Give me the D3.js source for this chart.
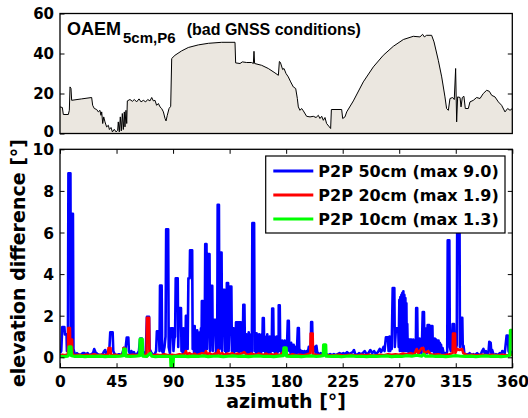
<!DOCTYPE html>
<html>
<head>
<meta charset="utf-8">
<script src="https://cdn.jsdelivr.net/npm/d3@7"></script>
<style>
  html, body { margin: 0; padding: 0; background: #fff; }
  svg { display: block; }
  .tick text { font-family: "DejaVu Sans", sans-serif; font-weight: bold; font-size: 15.5px; fill: #000; }
  .tick line { stroke: #000; stroke-width: 1; }
  .mask-axis .tick text { font-size: 15px; }
</style>
</head>
<body>
<svg id="chart" width="528" height="418"></svg>
<script>
// Obstruction-adaptive elevation mask (OAEM): azimuth [deg] -> elevation [deg]
const oaem = [
  [0,13.3],[1.86,13.0],[2.65,9.5],[6.63,9.5],[7.43,11.6],[7.96,23.3],[8.75,22.5],[9.28,16.6],
  [17.2,17.3],[25.2,18.0],[26.0,14.1],[27.3,12.5],[29.2,12.0],[30.5,10.8],[31.8,11.6],[32.6,9.1],
  [33.2,10.8],[34.0,5.0],[34.8,8.3],[35.8,5.8],[37.1,3.3],[38.5,4.1],[39.3,2.0],[40.6,3.0],
  [41.7,0.8],[43.2,2.1],[44.6,0.8],[45.9,1.6],[46.4,5.8],[47.2,0.8],[48.0,8.3],[48.8,1.3],
  [49.6,10.0],[50.4,2.0],[51.2,10.8],[51.7,3.3],[52.5,11.6],[53.1,5.0],[53.6,16.3],[55.7,17.0],
  [57.6,16.1],[59.2,17.0],[61.0,15.8],[62.9,17.3],[64.5,15.8],[66.3,16.6],[68.2,15.8],[69.8,17.0],
  [71.6,16.3],[73.0,18.0],[74.3,16.3],[75.6,16.6],[76.9,14.1],[78.3,15.0],[79.6,13.3],[80.9,12.5],
  [82.3,10.8],[83.6,7.5],[84.4,6.3],[85.4,9.1],[86.8,12.5],[88.1,13.6],[88.9,37.5],[91.5,39.1],
  [96.8,41.3],[102.1,43.0],[110.1,44.3],[118.1,45.1],[128.7,45.6],[139.3,45.6],[139.8,35.3],
  [143.3,35.0],[145.1,35.8],[148.6,35.5],[152.5,35.5],[153.9,35.0],[154.4,41.1],[154.9,35.0],
  [160.5,34.1],[165.8,32.5],[171.1,30.3],[173.8,29.1],[174.6,36.0],[175.4,35.6],[177.2,32.0],
  [178.3,32.5],[179.9,30.0],[181.7,28.3],[183.6,25.8],[185.7,23.3],[187.6,22.5],[188.9,17.5],
  [189.7,13.3],[191.0,11.6],[192.3,12.5],[193.7,11.3],[196.3,8.6],[199.0,8.3],[201.6,8.6],
  [203.8,8.0],[205.6,9.1],[206.9,7.5],[208.3,8.6],[209.6,6.6],[210.9,8.0],[212.2,5.0],[214.4,3.3],
  [215.4,2.5],[216.0,12.0],[224.2,12.0],[225.0,7.5],[226.8,8.3],[228.2,10.8],[233.5,16.3],
  [241.4,25.8],[249.4,33.3],[257.3,39.1],[265.3,43.6],[273.3,47.0],[281.2,48.6],[286.5,48.3],
  [288.6,49.6],[290.0,48.3],[291.8,49.1],[295.8,49.1],[297.7,45.8],[301.1,36.6],[303.8,28.3],
  [306.4,18.3],[307.7,12.5],[309.1,11.6],[310.4,17.5],[312.5,18.0],[313.8,17.0],[314.9,32.5],
  [315.7,5.8],[316.5,18.3],[318.4,18.0],[319.2,13.3],[320.2,18.0],[321.5,18.6],[322.6,12.5],
  [325.0,12.5],[326.3,15.8],[329.0,16.6],[331.6,18.0],[334.3,17.5],[336.9,20.0],[339.6,21.6],
  [341.7,21.1],[343.6,19.1],[346.2,18.3],[348.9,15.8],[351.5,14.1],[354.2,10.8],[356.3,12.5],
  [358.2,11.6],[360,12.5]
];

// Elevation difference [deg] per azimuth [deg], one series per point-to-point spacing
const p2p50 = [
  [0,0.2],[1.0,0.3],[1.8,1.45],[3.5,1.45],[3.9,1.1],[5.2,1.1],[5.5,0.3],[6.3,0.4],[6.7,8.85],[8.3,8.85],
  [8.7,0.6],[9.1,6.9],[10.3,6.9],[10.7,0.4],[11.5,0.2],[12.5,0.15],[13.5,0.2],[14.5,0.15],[16,0.1],[17,0.15],
  [18,0.2],[19.5,0.2],[20.5,0.15],[22,0.2],[23,0.1],[25,0.15],[26.3,0.2],[27.2,0.4],[28.2,0.25],
  [30,0.15],[32,0.1],[34,0.15],[35.2,0.3],[36,0.35],[37,0.15],[38.3,0.2],[39.4,0.5],[40.0,1.2],
  [41.9,1.2],[42.4,0.3],[43.5,0.15],[45,0.1],[47,0.15],[49,0.1],[50,0.25],[50.8,0.45],[51.8,0.2],
  [53.1,0.95],[54.4,0.95],[54.8,0.3],[55.8,0.15],[56.8,0.3],[57.8,0.15],[58.8,0.25],[59.8,0.1],
  [61.3,0.15],[62.8,0.3],[63.8,0.9],[65.2,0.9],[65.8,0.3],[66.8,0.2],[68.2,0.15],[69.2,1.95],
  [70.9,1.95],[71.3,0.4],[72.5,0.25],[73.5,0.15],[75,0.1],[76.5,0.3],[77.1,1.25],[78.7,1.25],
  [79.2,0.3],[79.6,3.45],[80.9,3.45],[81.3,0.3],[82.2,0.2],[83.2,0.5],[84.0,1.0],[84.5,6.15],
  [86.1,6.15],[86.5,0.5],[87.5,0.2],[88.3,1.4],[89.9,1.4],[90.3,0.3],[91.0,0.9],[91.6,1.0],
  [92.1,3.8],[93.7,3.8],[94.1,0.5],[94.7,2.37],[96.3,2.37],[96.7,0.3],
  [97.2,1.2],[97.7,0.2],[98.2,1.4],[98.7,0.3],[99.2,1.1],[99.7,0.2],[100.2,2.0],[101.2,2.0],
  [101.6,0.4],[102.2,3.8],[103.2,3.8],[103.5,5.15],[105.2,5.15],[105.6,0.4],[106.2,1.2],[106.7,0.2],
  [107.2,1.5],[107.7,0.3],[108.2,1.3],[108.7,0.2],[109.2,1.3],[109.7,0.2],[110.2,1.0],[110.7,0.3],
  [111.2,1.2],[111.7,0.2],[112.2,1.4],[112.6,0.3],[112.9,2.7],[113.7,2.7],[114.1,0.3],[114.6,1.3],
  [115.1,0.2],[115.6,5.44],[116.6,5.44],[117.0,0.4],[117.4,1.2],[117.8,4.96],[119.0,4.96],[119.4,0.3],
  [119.8,1.5],[120.2,3.44],[121.2,3.44],[121.6,0.3],[122.0,1.2],[122.8,1.8],[123.8,1.8],[124.2,0.2],
  [124.7,1.3],[125.1,0.3],[125.5,7.33],[126.5,7.33],[126.9,0.4],[127.3,1.3],[127.6,5.04],[128.6,5.04],
  [129.0,0.3],[129.5,1.8],[130.0,3.25],[131.0,3.25],[131.4,0.3],[131.9,1.4],[132.3,0.2],[132.8,3.57],
  [133.8,3.57],[134.2,0.3],[134.7,1.2],[135.3,3.4],[136.4,3.4],[136.8,0.3],[137.3,1.4],[138.2,1.4],
  [138.6,0.2],[139.1,1.3],[139.6,0.3],[140.1,1.68],[140.8,1.68],[141.2,0.3],[141.6,1.68],[142.3,1.68],
  [142.7,0.2],[143.1,1.68],[144.0,1.68],[144.4,0.3],[144.9,1.2],[145.4,0.2],[145.9,2.53],[146.8,2.53],
  [147.2,0.3],[147.6,1.1],[148.3,1.1],[148.7,0.2],[149.2,1.0],[149.7,0.3],[150.2,1.2],[150.7,0.2],
  [151.2,0.9],[151.7,0.3],[152.2,1.1],[152.7,0.2],[153.1,6.45],[154.5,6.45],[154.9,0.3],[155.5,1.1],
  [156.0,0.2],[156.5,1.15],[157.0,0.3],[157.5,1.0],[158.0,0.2],[158.5,1.1],[159.0,0.3],[159.5,0.9],
  [160.0,0.2],[160.5,1.1],[161.0,0.3],[161.4,1.89],[162.2,1.89],[162.6,0.3],[163.0,1.0],[163.5,0.2],
  [164.0,0.9],[164.5,0.3],[165.0,1.1],[165.5,0.2],[166.0,0.8],[166.5,0.3],[167.0,1.0],[167.5,0.2],
  [168.0,0.9],[168.5,0.3],[168.9,2.34],[169.7,2.34],[170.1,0.3],[170.6,1.0],[171.1,0.2],[171.6,0.8],
  [172.1,0.3],[172.6,1.0],[173.1,0.2],[173.6,0.9],[174.0,0.3],[174.1,2.5],[174.9,2.5],[175.3,0.3],
  [175.8,0.8],[176.3,0.2],[176.8,0.8],[177.3,0.2],[177.8,0.7],[178.3,0.3],[178.8,0.8],[179.3,0.2],
  [179.8,0.7],[180.3,0.3],[180.8,0.8],[181.3,1.76],[182.1,1.76],[182.5,0.3],[183.0,0.6],[183.5,0.2],
  [184.0,0.7],[184.5,0.3],[185.0,0.6],[185.5,0.2],[186.0,0.6],[186.5,0.2],[187.0,0.5],[187.5,0.2],
  [188.0,0.5],[188.5,0.2],[189.3,1.41],[190.1,1.41],[190.5,0.2],[191.2,0.35],[191.9,0.2],[192.7,0.3],
  [193.6,0.15],[194.5,0.3],[195.4,0.2],[196.3,0.3],[197.2,0.2],[198.0,0.5],[198.8,0.2],[199.6,0.4],
  [199.9,1.7],[200.7,1.7],[201.1,0.4],[201.7,0.5],[202.3,0.3],[202.9,0.5],[203.5,0.2],[204.1,0.55],
  [204.7,0.25],[205.5,0.2],[206.5,0.15],[207.5,0.2],[209,0.15],[210.5,0.2],[212,0.15],[213.5,0.1],
  [215,0.15],[216.5,0.1],[218,0.15],[219.5,0.1],[221,0.15],[222.5,0.2],[224,0.15],[225.5,0.2],
  [227,0.15],[228.5,0.25],[230,0.15],[231.5,0.2],[233,0.25],[234,0.35],[235,0.15],[236.5,0.1],
  [238,0.2],[239.5,0.15],[241,0.2],[242.5,0.3],[244,0.15],[245.5,0.2],[247,0.35],[248.5,0.2],
  [250,0.3],[251.5,0.15],[253,0.25],[254.5,0.4],[255.5,0.25],[256.5,0.35],[257.5,0.5],[258.3,0.3],
  [259.4,0.96],[261.0,0.96],[261.5,0.3],[262.3,1.0],[262.8,0.3],[263.5,0.5],[264.0,0.4],[264.8,3.33],
  [266.1,3.33],[266.5,0.5],[267.4,1.4],[269.2,1.4],[269.6,0.5],[270.1,2.77],[270.5,0.3],[270.9,2.9],
  [271.3,0.4],[271.7,3.0],[272.1,0.3],[272.5,3.1],[272.9,0.4],[273.3,3.17],[273.7,0.3],[274.1,3.0],
  [274.5,0.4],[274.9,2.85],[275.3,0.3],[275.7,2.6],[276.0,0.4],[276.4,1.6],[276.8,0.3],[277.2,0.85],
  [277.6,0.2],[278.0,0.85],[278.4,0.3],[278.8,0.85],[279.2,0.2],[279.6,0.85],[280.0,0.3],[280.4,0.8],
  [280.8,0.2],[281.2,0.85],[281.6,0.3],[282.0,0.8],[282.4,0.2],[282.8,0.8],[283.2,0.3],[283.5,2.37],
  [284.3,2.37],[284.7,0.3],[285.2,0.9],[285.7,0.2],[286.2,0.9],[286.7,0.3],[287.2,0.8],[287.7,0.2],
  [288.2,0.9],[288.7,2.18],[289.7,2.18],[290.1,0.3],[290.6,1.4],[291.1,0.3],[291.6,1.4],[292.1,0.2],
  [292.6,1.55],[293.9,1.55],[294.3,0.3],[294.8,1.0],[295.3,0.3],[295.7,1.5],[296.4,1.5],[296.8,0.3],
  [297.3,0.9],[297.8,0.2],[298.3,0.9],[298.8,0.3],[299.3,0.85],[299.8,0.2],[300.3,0.8],[300.8,0.3],
  [301.3,0.8],[301.8,0.2],[302.3,0.7],[302.8,0.3],[303.3,0.6],[303.8,0.2],[304.5,0.45],[305.5,0.15],
  [306.5,0.2],[307.5,0.1],[308.2,0.3],[308.6,5.62],[309.9,5.62],[310.3,0.5],[311,0.3],[311.8,0.5],
  [312.5,1.6],[313.6,1.6],[314,0.5],[315,0.4],[315.8,0.6],[316.3,9.0],[317.9,9.0],[318.3,0.5],
  [318.8,0.9],[319.2,1.9],[320.2,1.9],[320.6,0.4],[321.2,0.55],[321.8,0.2],[323,0.1],[324,0.15],
  [325,0.1],[326,0.2],[327,0.15],[328,0.1],[329,0.15],[330,0.1],[331,0.15],[332,0.2],[333,0.15],
  [334,0.1],[335,0.15],[336,0.3],[337,0.4],[338,0.2],[339,0.3],[340,0.15],[341,0.2],[341.7,0.75],
  [342.8,0.7],[343.3,0.2],[344,0.35],[345,0.15],[346,0.1],[347,0.15],[348,0.1],[349,0.15],[350,0.2],
  [351,0.1],[352,0.3],[353,0.25],[354,0.2],[355.5,1.05],[356.5,1.05],[357,0.3],[358,0.15],[359,0.2],
  [360,0.3]
];

const p2p20 = [
  [0,0.1],[2,0.12],[4,0.1],[6.3,0.15],[6.6,1.41],[7.9,1.41],[8.2,0.2],[8.5,0.85],[9.6,0.85],[9.9,0.15],[12,0.1],
  [15,0.12],[18,0.08],[21,0.12],[24,0.1],[27,0.15],[30,0.1],[33,0.12],[36,0.1],[38.3,0.15],[38.6,0.45],
  [40.2,0.45],[40.5,0.1],[44,0.12],[47,0.08],[50.2,0.15],[50.5,0.45],[51.3,0.45],[51.6,0.12],[55,0.1],
  [58,0.12],[61,0.1],[64,0.15],[67,0.1],[68.9,0.15],[69.2,1.9],[70.9,1.9],[71.2,0.15],[74,0.1],[77,0.12],
  [80,0.1],[83,0.15],[86,0.1],[89,0.12],[92,0.1],[95,0.15],[98,0.12],[99.5,0.2],[100.2,0.3],[101,0.15],
  [103,0.2],[105,0.12],[107,0.18],[109,0.1],[111,0.15],[113,0.2],[115,0.15],[116.2,0.3],[117,0.15],
  [119,0.2],[121,0.12],[123,0.18],[125,0.15],[126,0.35],[127,0.15],[129,0.2],[131,0.12],[133,0.18],
  [135,0.15],[137,0.2],[139,0.12],[141,0.18],[143,0.15],[145,0.2],[146.6,0.25],[148,0.15],[150,0.12],
  [152,0.18],[154,0.15],[156,0.12],[158,0.18],[160,0.15],[162,0.12],[164,0.18],[166,0.12],[168,0.15],
  [170,0.12],[172,0.18],[174,0.1],[176,0.15],[177.5,0.25],[179,0.15],[181,0.12],[183,0.1],[185,0.15],
  [188,0.1],[191,0.12],[194,0.1],[197,0.15],[199.2,0.2],[199.5,1.14],[201.1,1.14],[201.4,0.15],
  [204,0.12],[207,0.1],[210,0.12],[213,0.1],[216,0.08],[219,0.1],[222,0.12],[225,0.08],[228,0.1],
  [231,0.12],[234,0.1],[237,0.08],[240,0.12],[243,0.1],[246,0.12],[249,0.08],[252,0.1],[255,0.12],
  [258,0.1],[261,0.15],[264,0.12],[267,0.15],[270,0.12],[273,0.18],[276,0.15],[279,0.2],[282,0.15],
  [283.9,0.4],[285,0.2],[287.9,0.45],[289.2,0.45],[290,0.2],[293,0.3],[295,0.15],[298,0.12],[301,0.15],
  [304,0.1],[307,0.12],[310,0.15],[312.5,0.2],[312.8,1.14],[314.4,1.14],[314.7,0.2],[316,0.4],
  [318,0.35],[320,0.4],[321,0.2],[324,0.1],[328,0.12],[332,0.1],[336,0.12],[340,0.1],[344,0.12],
  [348,0.1],[352,0.12],[356,0.1],[360,0.12]
];

const p2p10 = [
  [0,0.05],[3,0.03],[6,0.06],[7.0,0.1],[7.2,0.5],[8.8,0.5],[9.1,0.08],[12,0.04],[16,0.06],[20,0.03],
  [24,0.05],[28,0.04],[32,0.06],[36,0.03],[40,0.05],[44,0.04],[48,0.06],[50.4,0.08],[50.6,0.4],
  [52.1,0.4],[52.4,0.06],[56,0.04],[60,0.05],[63.5,0.08],[63.7,0.87],[65.5,0.87],[65.8,0.06],[69,0.04],
  [72,0.2],[73,0.05],[76,0.03],[80,0.05],[84,0.04],[88.0,0.05],[88.3,-0.43],[90.0,-0.43],[90.3,0.05],
  [94,0.04],[98,0.06],[102,0.03],[106,0.06],[110,0.04],[114,0.07],[118,0.03],[122,0.05],[126,0.06],
  [130,0.03],[134,0.05],[138,0.07],[142,0.04],[146,0.06],[150,0.03],[154,0.05],[158,0.07],[162,0.04],
  [166,0.05],[170,0.03],[174,0.06],[177.9,0.08],[178.2,0.45],[180.0,0.45],[180.3,0.06],[184,0.04],
  [188,0.06],[192,0.03],[196,0.05],[200,0.07],[204,0.04],[207,0.05],[209.5,0.08],[209.8,0.6],
  [211.5,0.6],[211.8,0.05],[216,0.04],[220,0.06],[224,0.03],[228,0.05],[232,0.07],[236,0.04],[240,0.05],
  [244,0.03],[248,0.06],[252,0.04],[256,0.05],[260,0.07],[264,0.03],[268,0.06],[272,0.04],[276,0.08],
  [280,0.05],[284,0.1],[288,0.06],[289.5,0.15],[291,0.05],[295,0.07],[299,0.04],[303,0.06],[307,0.03],
  [311,0.05],[315,0.08],[319,0.05],[323,0.04],[327,0.06],[331,0.03],[335,0.05],[339,0.07],[343,0.04],
  [347,0.06],[351,0.03],[355,0.05],[358.2,0.1],[358.5,1.3],[360,1.3]
];

const azTicks = [0, 45, 90, 135, 180, 225, 270, 315, 360];
const maskTicks = [0, 20, 40, 60];
const diffTicks = [0, 2, 4, 6, 8, 10];

const series = [
  { name: "P2P 50cm", data: p2p50, color: "#0000ff", width: 2.6 },
  { name: "P2P 20cm", data: p2p20, color: "#ff0000", width: 2.6 },
  { name: "P2P 10cm", data: p2p10, color: "#00ff00", width: 3.2 }
];

const svg = d3.select("#chart");
const left = 60, right = 512.3;

// ---------- upper panel: elevation mask ----------
const x = d3.scaleLinear().domain([0, 360]).range([left, right]);
const yMask = d3.scaleLinear().domain([0, 60]).range([133.5, 13.5]);

svg.append("clipPath").attr("id", "clipTop")
  .append("rect").attr("x", left).attr("y", yMask(60))
  .attr("width", right - left).attr("height", yMask(0) - yMask(60));

const maskPanel = svg.append("g");
maskPanel.append("path").datum(oaem)
  .attr("clip-path", "url(#clipTop)")
  .attr("fill", "#ebe7e0")
  .attr("d", d3.area().x(d => x(d[0])).y0(yMask(0)).y1(d => yMask(d[1])));
maskPanel.append("path").datum(oaem)
  .attr("clip-path", "url(#clipTop)")
  .attr("fill", "none").attr("stroke", "#000").attr("stroke-width", 1)
  .attr("d", d3.line().x(d => x(d[0])).y(d => yMask(d[1])));

maskPanel.append("g").attr("class", "mask-axis").attr("transform", `translate(${left},0)`)
  .call(d3.axisLeft(yMask).tickValues(maskTicks).tickFormat(d3.format("d"))
    .tickSizeInner(-4.5).tickSizeOuter(0).tickPadding(6))
  .call(g => g.select(".domain").remove())
  .call(g => g.selectAll(".tick text").attr("dy", "0.3em"))
  .call(g => g.selectAll(".tick").filter(d => d === 0).select("text").attr("dy", "0.2em"));
maskPanel.append("g").attr("transform", `translate(${right},0)`)
  .call(d3.axisRight(yMask).tickValues([20, 40]).tickFormat("")
    .tickSizeInner(-4.5).tickSizeOuter(0))
  .call(g => g.select(".domain").remove());

maskPanel.append("rect").attr("x", left).attr("y", yMask(60))
  .attr("width", right - left).attr("height", yMask(0) - yMask(60))
  .attr("fill", "none").attr("stroke", "#000").attr("stroke-width", 1.3);

const title = maskPanel.append("text").attr("x", 67).attr("y", 35)
  .attr("font-family", "'Liberation Sans', Arial, sans-serif").attr("font-weight", "bold")
  .attr("font-size", 18).attr("fill", "#000");
title.append("tspan").text("OAEM");
title.append("tspan").attr("font-size", 15).attr("dy", 8.3).attr("dx", 2).text("5cm,P6");
maskPanel.append("text").attr("x", 186.7).attr("y", 35)
  .attr("font-family", "'Liberation Sans', Arial, sans-serif").attr("font-weight", "bold")
  .attr("font-size", 16).attr("fill", "#000")
  .text("(bad GNSS conditions)");

// ---------- lower panel: elevation differences ----------
const y = d3.scaleLinear().domain([-0.5, 10]).range([367.7, 149.3]);

svg.append("clipPath").attr("id", "clipBottom")
  .append("rect").attr("x", left).attr("y", y(10))
  .attr("width", right - left).attr("height", y(-0.5) - y(10));

const diffPanel = svg.append("g");
const line = d3.line().x(d => x(d[0])).y(d => y(d[1]));

diffPanel.append("g").attr("clip-path", "url(#clipBottom)")
  .selectAll("path").data(series).join("path")
  .attr("fill", "none")
  .attr("stroke", d => d.color)
  .attr("stroke-width", d => d.width)
  .attr("stroke-linejoin", "round")
  .attr("d", d => line(d.data));

diffPanel.append("g").attr("transform", `translate(${left},0)`)
  .call(d3.axisLeft(y).tickValues(diffTicks).tickFormat(d3.format("d"))
    .tickSizeInner(-4.5).tickSizeOuter(0).tickPadding(6))
  .call(g => g.select(".domain").remove())
  .call(g => g.selectAll(".tick text").attr("dy", "0.36em"));
diffPanel.append("g").attr("transform", `translate(${right},0)`)
  .call(d3.axisRight(y).tickValues(diffTicks).tickFormat("")
    .tickSizeInner(-4.5).tickSizeOuter(0))
  .call(g => g.select(".domain").remove());
diffPanel.append("g").attr("transform", `translate(0,${y(-0.5)})`)
  .call(d3.axisBottom(x).tickValues(azTicks).tickFormat(d3.format("d"))
    .tickSizeInner(-4.5).tickSizeOuter(0).tickPadding(8))
  .call(g => g.select(".domain").remove());
diffPanel.append("g").attr("transform", `translate(0,${y(10)})`)
  .call(d3.axisTop(x).tickValues(azTicks).tickFormat("")
    .tickSizeInner(-4.5).tickSizeOuter(0))
  .call(g => g.select(".domain").remove());

diffPanel.append("rect").attr("x", left).attr("y", y(10))
  .attr("width", right - left).attr("height", y(-0.5) - y(10))
  .attr("fill", "none").attr("stroke", "#000").attr("stroke-width", 1.3);

// legend
const legend = diffPanel.append("g");
legend.append("rect").attr("x", 265.7).attr("y", 156).attr("width", 239.3).attr("height", 77)
  .attr("fill", "#fff").attr("stroke", "#000").attr("stroke-width", 1.2);
const rowY = [171, 195, 219];
series.forEach((s, i) => {
  legend.append("line").attr("x1", 273.3).attr("x2", 313.3)
    .attr("y1", rowY[i]).attr("y2", rowY[i])
    .attr("stroke", s.color).attr("stroke-width", 3);
  legend.append("text").attr("x", 318.3).attr("y", rowY[i]).attr("dy", "0.36em")
    .attr("font-family", "'DejaVu Sans', sans-serif").attr("font-weight", "bold")
    .attr("font-size", 16).attr("fill", "#000")
    .text(`${s.name} (max ${d3.max(s.data, d => d[1]).toFixed(1)})`);
});

// axis titles
svg.append("text").attr("x", (left + right) / 2).attr("y", 408)
  .attr("text-anchor", "middle")
  .attr("font-family", "'DejaVu Sans', sans-serif").attr("font-weight", "bold")
  .attr("font-size", 19).attr("fill", "#000")
  .text("azimuth [°]");
svg.append("text").attr("transform", "translate(25,263) rotate(-90)")
  .attr("text-anchor", "middle")
  .attr("font-family", "'DejaVu Sans', sans-serif").attr("font-weight", "bold")
  .attr("font-size", 19).attr("fill", "#000")
  .text("elevation difference [°]");
</script>
</body>
</html>
